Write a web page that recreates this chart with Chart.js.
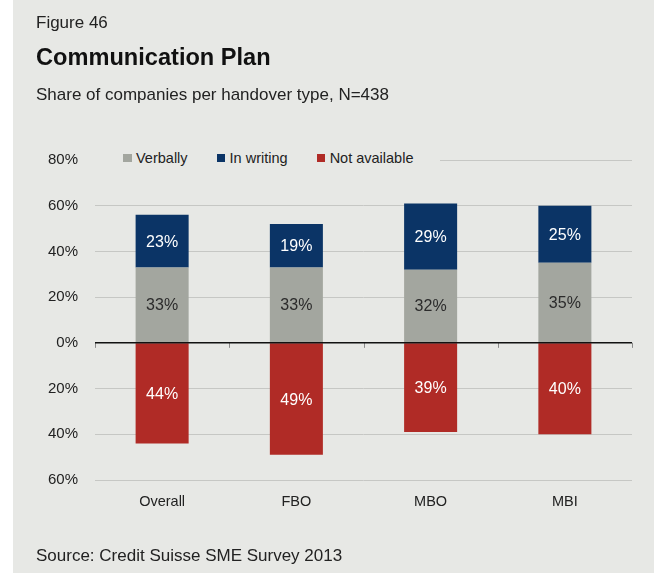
<!DOCTYPE html>
<html>
<head>
<meta charset="utf-8">
<script src="https://cdn.jsdelivr.net/npm/chart.js@4"></script>
<style>
   body { margin: 0; background: #fff; font-family: "Liberation Sans", Arial, sans-serif; }
   #panel { position: absolute; left: 13px; top: 0; width: 641px; height: 573px; background: #e7e8e5; }
   #wrap { position: absolute; left: 0; top: 0; width: 654px; height: 575px; }
   .txt { position: absolute; left: 36px; color: #222; white-space: nowrap; line-height: 1; }
   #fig { top: 14px; font-size: 17px; }
   #title { top: 46px; font-size: 23.6px; font-weight: bold; color: #111; }
   #sub { top: 86px; font-size: 17px; }
   #source { top: 547px; font-size: 17px; }
   #legend { position: absolute; left: 93px; top: 148px; width: 347px; height: 20px; background: #e7e8e5;
             box-sizing: border-box; padding-left: 30px; white-space: nowrap;
             font-size: 14.5px; color: #222; display: flex; align-items: center; }
   #legend span.item { display: flex; align-items: center; margin-right: 29px; flex-shrink: 0; white-space: nowrap; }
   #legend span.box { width: 8.5px; height: 8.5px; margin-right: 4.5px; display: inline-block; flex-shrink: 0; }
</style>
</head>
<body>
<div id="panel"></div>
<div id="wrap"><canvas id="chart" width="654" height="575"></canvas></div>
<div class="txt" id="fig">Figure 46</div>
<div class="txt" id="title">Communication Plan</div>
<div class="txt" id="sub">Share of companies per handover type, N=438</div>
<div class="txt" id="source">Source: Credit Suisse SME Survey 2013</div>
<div id="legend"></div>
<script>
const categories = ['Overall', 'FBO', 'MBO', 'MBI'];
const verbally = [33, 33, 32, 35];
const inWriting = [23, 19, 29, 25];
const notAvailable = [-44, -49, -39, -40];
const seriesNames = ['Verbally', 'In writing', 'Not available'];
const seriesColors = ['#a3a69f', '#0b3466', '#b02b26'];
const labelColors = ['#2b2b2b', '#ffffff', '#ffffff'];
const yTicks = [-60, -40, -20, 0, 20, 40, 60, 80];

// html legend (covers the top grid line like the original)
const legend = document.getElementById('legend');
seriesNames.forEach((name, i) => {
   const item = document.createElement('span');
   item.className = 'item';
   item.innerHTML = '<span class="box" style="background:' + seriesColors[i] + '"></span>' + name;
   legend.appendChild(item);
});

const barLabels = {
   id: 'barLabels',
   afterDatasetsDraw(chart) {
      const ctx = chart.ctx;
      ctx.save();
      ctx.font = '16px "Liberation Sans", Arial, sans-serif';
      ctx.textAlign = 'center';
      ctx.textBaseline = 'middle';
      chart.data.datasets.forEach((ds, di) => {
         const meta = chart.getDatasetMeta(di);
         meta.data.forEach((bar, i) => {
            ctx.fillStyle = labelColors[di];
            ctx.fillText(Math.abs(ds.data[i]) + '%', bar.x, (bar.y + bar.base) / 2 + 1);
         });
      });
      ctx.restore();
   }
};

const zeroLine = {
   id: 'zeroLine',
   afterDatasetsDraw(chart) {
      const { ctx, chartArea, scales } = chart;
      const y0 = scales.y.getPixelForValue(0);
      ctx.save();
      // tick marks at category boundaries
      ctx.strokeStyle = '#8a8a8a';
      ctx.lineWidth = 1;
      const n = categories.length;
      for (let i = 0; i <= n; i++) {
         let x;
         if (i === 0) x = chartArea.left;
         else if (i === n) x = chartArea.right;
         else x = (scales.x.getPixelForValue(i - 1) + scales.x.getPixelForValue(i)) / 2;
         x = Math.round(x) + 0.5;
         ctx.beginPath();
         ctx.moveTo(x, y0);
         ctx.lineTo(x, y0 + 5);
         ctx.stroke();
      }
      ctx.strokeStyle = '#111';
      ctx.lineWidth = 1.5;
      ctx.beginPath();
      ctx.moveTo(chartArea.left, y0);
      ctx.lineTo(chartArea.right, y0);
      ctx.stroke();
      ctx.restore();
   }
};

new Chart(document.getElementById('chart').getContext('2d'), {
   type: 'bar',
   data: {
      labels: categories,
      datasets: [
         { label: seriesNames[0], data: verbally, backgroundColor: seriesColors[0] },
         { label: seriesNames[1], data: inWriting, backgroundColor: seriesColors[1] },
         { label: seriesNames[2], data: notAvailable, backgroundColor: seriesColors[2] }
      ]
   },
   options: {
      responsive: false,
      animation: false,
      layout: { padding: { top: 160, right: 22, bottom: 65, left: 0 } },
      datasets: { bar: { barPercentage: 0.395, categoryPercentage: 1 } },
      scales: {
         x: {
            stacked: true,
            grid: { display: false, drawTicks: false },
            border: { display: false },
            ticks: {
               color: '#222',
               padding: 13,
               font: { family: '"Liberation Sans", Arial, sans-serif', size: 14.5 }
            },
            afterFit: s => { s.height = 30; }
         },
         y: {
            stacked: true,
            min: -60,
            max: 80,
            afterBuildTicks: s => { s.ticks = yTicks.map(v => ({ value: v })); },
            grid: {
               drawTicks: false,
               color: c => c.tick && c.tick.value === 0 ? 'rgba(0,0,0,0)' : '#c6c7c4'
            },
            border: { display: false },
            ticks: {
               color: '#222',
               padding: 17,
               font: { family: '"Liberation Sans", Arial, sans-serif', size: 15 },
               callback: v => Math.abs(v) + '%'
            },
            afterFit: s => { s.width = 95; }
         }
      },
      plugins: {
         legend: { display: false },
         tooltip: { enabled: false }
      }
   },
   plugins: [barLabels, zeroLine]
});
</script>
</body>
</html>
